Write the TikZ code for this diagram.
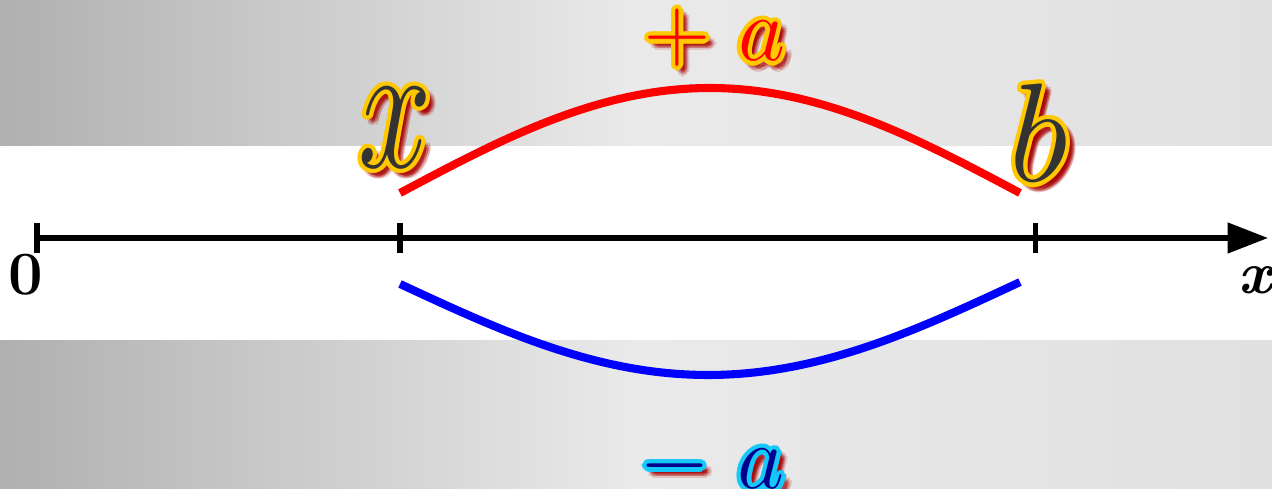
\RequirePackage{fix-cm}
\documentclass[tikz,border=0pt]{standalone}
\usepackage{xcolor}
\usepackage{tikz}
\usetikzlibrary{arrows.meta}
\definecolor{Cgold}{RGB}{255,200,  0}
\definecolor{Cink}{RGB}{ 51, 51, 51}
\definecolor{Cred}{RGB}{255,  0,  0}
\definecolor{Cblue}{RGB}{  0,  0,255}
\definecolor{Cnavy}{RGB}{  0,  0,140}
\definecolor{Csky}{RGB}{ 20,200,250}
\definecolor{Cshadow}{RGB}{170,  0,  0}
\definecolor{Bdark}{RGB}{176,176,176}
\definecolor{Blight}{RGB}{234,234,234}
\definecolor{Bright}{RGB}{224,224,224}

%% glowing letter: name, position, fill colour, rim colour, text
\newcommand{\glowlabel}[5]{%
    \foreach \rad in {0.6,1.6,2.6}{
        \foreach \ang in {0,45,...,315}{
            \pgfmathsetmacro{\dx}{3.2+\rad*cos(\ang)}
            \pgfmathsetmacro{\dy}{-3.2+\rad*sin(\ang)}
            \node[glow, text=Cshadow, opacity=0.17, xshift=\dx pt, yshift=\dy pt] at (#2) {#5};
        }
    }
    \foreach \ang in {0,22.5,...,337.5}{
        \pgfmathsetmacro{\dx}{2.4*cos(\ang)}
        \pgfmathsetmacro{\dy}{2.4*sin(\ang)}
        \node[glow, text=#4, xshift=\dx pt, yshift=\dy pt] at (#2) {#5};
    }
    \node[glow, text=#3] (#1) at (#2) {#5};
}

\begin{document}
\begin{tikzpicture}[x=0.02cm, y=-0.02cm,
    axis line/.style={black, line width=2.85pt},
    arc line/.style={line width=4.6pt},
    band/.style={left color=Bdark, right color=Bright, middle color=Blight},
    glow/.style={inner sep=0pt}]

    \useasboundingbox (0,0) rectangle (1272,489);

    %% Background bands
    \fill[white] (0,0) rectangle (1272,489);
    \shade[band] (0,0) rectangle (1272,146);
    \shade[band] (0,341) rectangle (1272,489);

    %% --- Number line ---
    \coordinate (O) at (35,238);
    \coordinate (E) at (1268,238);
    \draw[axis line, -{Triangle[length=23pt, width=17pt]}] (O) -- (E);
    \foreach \t in {37,400,1035}
        \draw[axis line] (\t,223) -- (\t,253);

    \node[font=\bfseries\fontsize{35}{35}\selectfont] (zero) at (26,275) {0};
    \node[font=\bfseries\itshape\fontsize{34}{34}\selectfont] (xaxis) at (1255,280) {x};

    %% --- Upper and lower arcs ---
    %% (0.2903 = 180/620, phase in degrees)
    \draw[arc line, Cred]  plot[domain=400:1020, samples=80] (\x, {88+105*(1-cos(0.2903*(\x-710)))});
    \draw[arc line, Cblue] plot[domain=400:1020, samples=80] (\x, {375-92*(1-cos(0.2903*(\x-708)))});

    %% --- Glowing labels ---
    \glowlabel{xlabel}{395,128}{Cink}{Cgold}{\fontsize{75}{75}\selectfont\scalebox{1}[1.4]{$x$}}
    \glowlabel{blabel}{1039,133}{Cink}{Cgold}{\fontsize{80}{80}\selectfont$b$}
    \glowlabel{plusa}{715,38}{Cred}{Cgold}{\fontsize{52}{52}\selectfont$+\ a$}
    \glowlabel{minusa}{712,466}{Cnavy}{Csky}{\fontsize{52}{52}\selectfont$-\ a$}

\end{tikzpicture}
\end{document}
